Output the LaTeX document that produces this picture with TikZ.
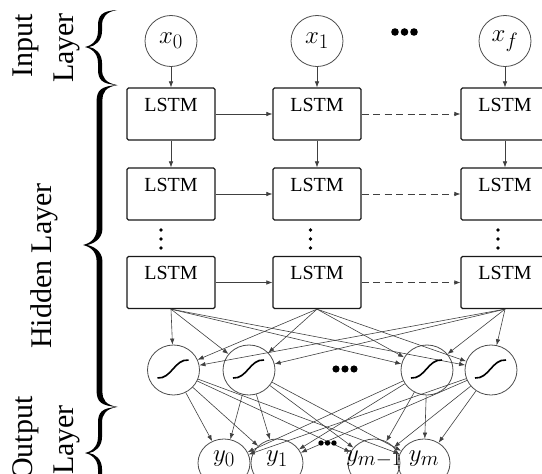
\documentclass[tikz,border=0pt]{standalone}
\usepackage{fontspec}
\setmainfont{Liberation Serif}
\usetikzlibrary{shapes.geometric,arrows.meta}
% #1 end x, #2 stem x, #3 tip x, #4 top y, #5 cusp y, #6 bottom y, #7 half stem width
\newcommand{\glyphbrace}[7]{%
\fill[black] (#1,#4)
  .. controls ({#2+2},{#4+1}) and ({#2-#7},{#4+5}) .. ({#2-#7},{#4+16})
  -- ({#2-#7},{#5-16})
  .. controls ({#2-#7},{#5-5}) and ({#3+5},{#5-1}) .. (#3,#5)
  .. controls ({#3+5},{#5+1}) and ({#2-#7},{#5+5}) .. ({#2-#7},{#5+16})
  -- ({#2-#7},{#6-16})
  .. controls ({#2-#7},{#6-5}) and ({#2+2},{#6-1}) .. (#1,#6)
  .. controls ({#2+6},{#6-2}) and ({#2+#7},{#6-7}) .. ({#2+#7},{#6-16})
  -- ({#2+#7},{#5+16})
  .. controls ({#2+#7},{#5+6}) and ({#3+10},{#5+1}) .. ({#3+4},#5)
  .. controls ({#3+10},{#5-1}) and ({#2+#7},{#5-6}) .. ({#2+#7},{#5-16})
  -- ({#2+#7},{#4+16})
  .. controls ({#2+#7},{#4+7}) and ({#2+6},{#4+2}) .. (#1,#4) -- cycle;}
\begin{document}
\begin{tikzpicture}[x=1pt,y=-1pt,
  every node/.style={inner sep=0pt},
  conn/.style={draw=black!75, line width=0.6pt, -{Latex[length=6pt,width=4.5pt]}},
  dconn/.style={conn, dash pattern=on 7pt off 4.5pt},
  lstm/.style={draw=black!90, line width=1.3pt, rounded corners=1.5pt, minimum width=88pt,
    inner xsep=0pt, inner ysep=9pt, text height=14pt, text depth=20pt,
    font=\fontsize{20}{24}\selectfont},
  innode/.style={ellipse, draw=black!70, line width=0.8pt, minimum width=52pt,
    minimum height=51pt, font=\fontsize{28}{30}\selectfont},
  signode/.style={ellipse, draw=black!70, line width=0.8pt, minimum width=52pt, minimum height=50pt},
  outnode/.style={ellipse, draw=black!70, line width=0.8pt, minimum width=52pt, minimum height=48pt},
  outlab/.style={font=\fontsize{28}{30}\selectfont},
  laylab/.style={rotate=90, anchor=base, font=\fontsize{30}{34}\selectfont},
  sigcurve/.style={line width=1.6pt, black}
]
\useasboundingbox (0,0) rectangle (542,474);

% braces and layer labels
\glyphbrace{117}{100}{85}{10}{47}{85}{2}
\glyphbrace{118}{99.5}{83}{85}{245}{407}{2.9}
\glyphbrace{117}{100}{85}{407}{453}{497}{2}
\node[laylab] (inA) at (33,46) {Input};
\node[laylab] (inB) at (74,48) {Layer};
\node[laylab] (hid) at (52,266) {Hidden Layer};
\node[laylab] (outA) at (33,438) {Output};
\node[laylab] (outB) at (74,440) {Layer};

% inputs
\node[innode] (x1) at (171,41) {$x_0$};
\node[innode] (x2) at (317,41) {$x_1$};
\node[innode] (x3) at (505,41) {$x_f$};

% LSTM grid
\foreach \c/\xx in {1/171,2/317,3/505}{
  \node[lstm] (l1\c) at (\xx,114) {LSTM};
  \node[lstm] (l2\c) at (\xx,194) {LSTM};
  \node[lstm] (l3\c) at (\xx,282.5) {LSTM};
}

% sigmoid nodes
\node[signode] (s1) at (173.5,370) {};
\node[signode] (s2) at (249,370) {};
\node[signode] (s3) at (427,370) {};
\node[signode] (s4) at (491,370) {};

% outputs
\node[outnode] (o1) at (224,463) {};
\node[outnode] (o2) at (277,463) {};
\node[outnode] (o3) at (374,463) {};
\node[outnode] (o4) at (424,463) {};
\node[outlab] (t1) at (224,459) {$y_0$};
\node[outlab] (t2) at (277,459) {$y_1$};
\node[outlab] (t3) at (374,459) {$y_{m-1}$};
\node[outlab] (t4) at (424,459) {$y_m$};

% connectors
\foreach \c in {1,2,3}{
  \draw[conn] (x\c) -- (l1\c);
  \draw[conn] (l1\c) -- (l2\c);
}
\foreach \r in {1,2,3}{
  \draw[conn] (l\r1) -- (l\r2);
  \draw[dconn] (l\r2) -- (l\r3);
}
\foreach \c in {1,2,3}{
  \foreach \s in {1,2,3,4}{
    \draw[conn] (l3\c.south) -- (s\s);
  }
}
\foreach \s in {1,2,3,4}{
  \foreach \o in {1,2,3,4}{
    \draw[conn] (s\s) -- (o\o);
  }
}

% sigmoid glyphs
\foreach \s in {s1,s2,s3,s4}{
  \begin{scope}[shift={(\s.center)}]
    \draw[sigcurve] (-16,8) .. controls (-2,9) and (1,-11) .. (15,-10);
  \end{scope}
}

% ellipsis dots
\foreach \xx in {395,404.5,414}{\fill (\xx,32) circle (3.8pt);}
\foreach \xx in {336,345,354}{\fill (\xx,369) circle (3.6pt);}
\foreach \xx in {321,327.5,334}{\fill (\xx,443) circle (2.7pt);}
\foreach \xx in {161,310.5,498}{
  \foreach \yy in {230,239,248}{\fill (\xx,\yy) circle (1.8pt);}
}
\end{tikzpicture}
\end{document}
